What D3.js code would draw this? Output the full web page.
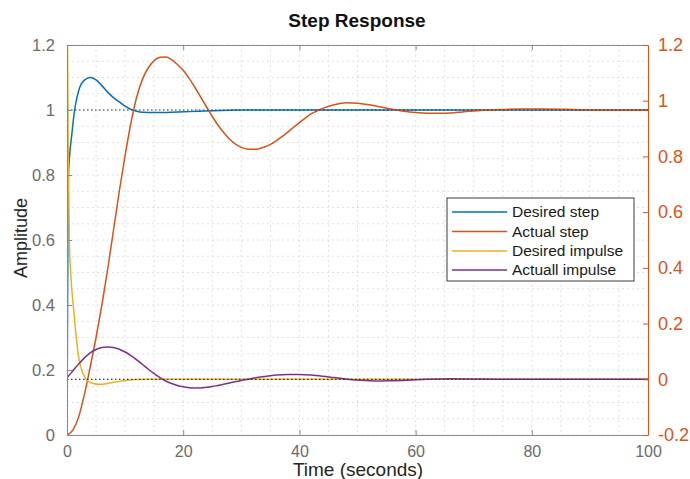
<!DOCTYPE html>
<html><head><meta charset="utf-8">
<script src="https://cdn.jsdelivr.net/npm/d3@7"></script>
<style>
html,body{margin:0;padding:0;background:#fff;}
svg{display:block;font-family:"Liberation Sans",Arial,Helvetica,sans-serif;}
</style></head>
<body><svg id="chart" width="690" height="479"></svg>
<script>
// ---- data ----
const seriesNames = ["Desired step", "Actual step", "Desired impulse", "Actuall impulse"];
const seriesColors = ["#0072BD", "#D95319", "#EDB120", "#7E2F8E"];

const desiredStepT = [0,0.1,0.22,0.45,0.8,1.1,1.4,1.8,2.2,3,4,5,6,7,8,9,10,11,12,13,15,18,21,25,30,40,60,80,100];
const desiredStepY = [0,0.4,0.78,0.86,0.92,0.97,1.01,1.045,1.07,1.092,1.10,1.093,1.075,1.055,1.038,1.025,1.012,1.002,0.996,0.993,0.992,0.993,0.995,0.998,1.0,1.0,1.0,1.0,1.0];

const actualStepT = [0,1,2,3,4,5,6,7,8,9,10,11,12,13,14,15,16,17,18,19,20,21,22,23,24,25,26,27,28,29,30,31,32,33,34,35,36,37,38,39,40,41,42,43,44,46,48,50,52,54,56,58,60,62,64,66,68,70,74,78,82,86,90,95,100];
const actualStepY = [0,0.015,0.055,0.125,0.21,0.3,0.4,0.51,0.63,0.75,0.86,0.96,1.04,1.095,1.13,1.152,1.162,1.163,1.155,1.14,1.122,1.098,1.07,1.04,1.01,0.98,0.953,0.93,0.91,0.895,0.885,0.88,0.879,0.881,0.886,0.894,0.905,0.918,0.932,0.947,0.961,0.975,0.988,0.997,1.005,1.016,1.022,1.021,1.016,1.009,1.002,0.996,0.992,0.99,0.99,0.991,0.994,0.997,1.001,1.003,1.003,1.002,1.0,0.999,0.999];

const desiredImpT = [0,0.1,0.2,0.4,0.7,1.1,1.5,2,2.5,3,3.5,4.5,5.7,7,8.5,10,12,14,20,40,60,80,100];
const desiredImpY = [1.5,1.2,0.86,0.5,0.36,0.26,0.17,0.08,0.035,0.01,-0.005,-0.015,-0.018,-0.015,-0.009,-0.004,-0.001,0,0,0,0,0,0];

const actualImpT = [0,1,2,3,4,5,6,7,8,9,10,11,12,13,14,15,16,17,18,19,20,21,22,23,24,25,26,28,30,32,34,36,38,40,42,44,46,48,50,52,54,56,58,62,66,70,75,80,90,100];
const actualImpY = [0.005,0.03,0.055,0.077,0.095,0.107,0.114,0.116,0.114,0.108,0.098,0.085,0.07,0.053,0.036,0.02,0.006,-0.006,-0.015,-0.022,-0.027,-0.03,-0.031,-0.031,-0.029,-0.026,-0.022,-0.013,-0.004,0.004,0.01,0.015,0.017,0.017,0.015,0.011,0.006,0.001,-0.003,-0.005,-0.006,-0.005,-0.004,0,0.002,0.001,0,0,0,0];

const xTicks = [0,20,40,60,80,100];
const xTickLabels = ["0","20","40","60","80","100"];
const leftTicks = [0,0.2,0.4,0.6,0.8,1,1.2];
const leftTickLabels = ["0","0.2","0.4","0.6","0.8","1","1.2"];
const rightTicks = [-0.2,0,0.2,0.4,0.6,0.8,1,1.2];
const rightTickLabels = ["-0.2","0","0.2","0.4","0.6","0.8","1","1.2"];

const titleText = "Step Response";
const xLabelText = "Time (seconds)";
const yLabelText = "Amplitude";

// ---- layout ----
const svg = d3.select("#chart");
const L = 67, R = 648, T = 45, B = 435;

const x = d3.scaleLinear().domain([0,100]).range([L,R]);
const yL = d3.scaleLinear().domain([0,1.2]).range([B,T]);
const yR = d3.scaleLinear().domain([-0.2,1.2]).range([B,T]);

// grid
const grid = svg.append("g");
d3.range(0,100.001,5).forEach(v=>{
  grid.append("line").attr("x1",x(v)).attr("x2",x(v)).attr("y1",T).attr("y2",B)
    .attr("stroke","#e0e0e0").attr("stroke-width",1).attr("stroke-dasharray","2,3");
});
d3.range(0,1.2001,0.05).forEach(v=>{
  grid.append("line").attr("x1",L).attr("x2",R).attr("y1",yL(v)).attr("y2",yL(v))
    .attr("stroke","#e0e0e0").attr("stroke-width",1).attr("stroke-dasharray","2,3");
});

// clip
svg.append("clipPath").attr("id","clip").append("rect")
  .attr("x",L).attr("y",T).attr("width",R-L).attr("height",B-T);

const plot = svg.append("g").attr("clip-path","url(#clip)");
const mk = (ys)=> d3.line().x(d=>x(d[0])).y(d=>ys(d[1])).curve(d3.curveMonotoneX);
const zip = (a,b)=> a.map((t,i)=>[t,b[i]]);

const series = [
  {t:desiredStepT, y:desiredStepY, s:yL},
  {t:actualStepT, y:actualStepY, s:yL},
  {t:desiredImpT, y:desiredImpY, s:yR},
  {t:actualImpT, y:actualImpY, s:yR}
];
series.forEach((d,i)=>{
  plot.append("path").attr("d", mk(d.s)(zip(d.t,d.y)))
    .attr("fill","none").attr("stroke",seriesColors[i]).attr("stroke-width",1.5);
});

// reference dotted lines
plot.append("line").attr("x1",L).attr("x2",R).attr("y1",yL(1)).attr("y2",yL(1))
  .attr("stroke","#333").attr("stroke-width",1.2).attr("stroke-dasharray","1.5,2.5");
plot.append("line").attr("x1",L).attr("x2",R).attr("y1",yR(0)).attr("y2",yR(0))
  .attr("stroke","#333").attr("stroke-width",1.2).attr("stroke-dasharray","1.5,2.5");

// axes
const gray = "#8a8a8a", lab = "#6b6b6b", orange = "#D95319";
const xb = svg.append("g").attr("transform",`translate(0,${B})`)
  .call(d3.axisBottom(x).tickValues(xTicks).tickFormat((d,i)=>xTickLabels[i]).tickSizeInner(-5).tickSizeOuter(0).tickPadding(11));
const xt = svg.append("g").attr("transform",`translate(0,${T})`)
  .call(d3.axisTop(x).tickValues(xTicks).tickFormat("").tickSizeInner(-5).tickSizeOuter(0));
const yl = svg.append("g").attr("transform",`translate(${L},0)`)
  .call(d3.axisLeft(yL).tickValues(leftTicks).tickFormat((d,i)=>leftTickLabels[i]).tickSizeInner(-5).tickSizeOuter(0).tickPadding(12));
const yr = svg.append("g").attr("transform",`translate(${R},0)`)
  .call(d3.axisRight(yR).tickValues(rightTicks).tickFormat((d,i)=>rightTickLabels[i]).tickSizeInner(-5).tickSizeOuter(0).tickPadding(10));

[xb,xt,yl].forEach(g=>{
  g.select(".domain").attr("stroke",gray);
  g.selectAll(".tick line").attr("stroke",gray);
  g.selectAll("text").attr("fill",lab).style("font-size","16.5px").style("font-family","'Liberation Sans',Arial,sans-serif");
});
xb.selectAll("text").style("font-size","16px");
yr.select(".domain").attr("stroke",orange);
yr.selectAll(".tick line").attr("stroke",orange);
yr.selectAll("text").attr("fill",orange).style("font-size","18px").style("font-family","'Liberation Sans',Arial,sans-serif");
xt.selectAll(".tick").filter(d=>d===0||d===100).remove();
xb.selectAll(".tick line").filter(d=>d===0||d===100).remove();

// labels
svg.append("text").attr("x",357).attr("y",27).attr("text-anchor","middle")
  .style("font-size","19px").style("font-weight","bold").attr("fill","#111").text(titleText);
svg.append("text").attr("x",358).attr("y",476).attr("text-anchor","middle")
  .style("font-size","19px").attr("fill","#262626").text(xLabelText);
svg.append("text").attr("transform","translate(27,238) rotate(-90)").attr("text-anchor","middle")
  .style("font-size","18px").attr("fill","#262626").text(yLabelText);

// legend
const lg = svg.append("g");
lg.append("rect").attr("x",447).attr("y",198).attr("width",187).attr("height",83)
  .attr("fill","#fff").attr("stroke","#3a3a3a").attr("stroke-width",1);
const rowY = [212,231.5,251,270];
seriesNames.forEach((n,i)=>{
  lg.append("line").attr("x1",452).attr("x2",507).attr("y1",rowY[i]).attr("y2",rowY[i])
    .attr("stroke",seriesColors[i]).attr("stroke-width",1.5);
  lg.append("text").attr("x",512).attr("y",rowY[i]).attr("dy","0.35em")
    .style("font-size","15.5px").attr("fill","#1a1a1a").text(n);
});
</script></body></html>
